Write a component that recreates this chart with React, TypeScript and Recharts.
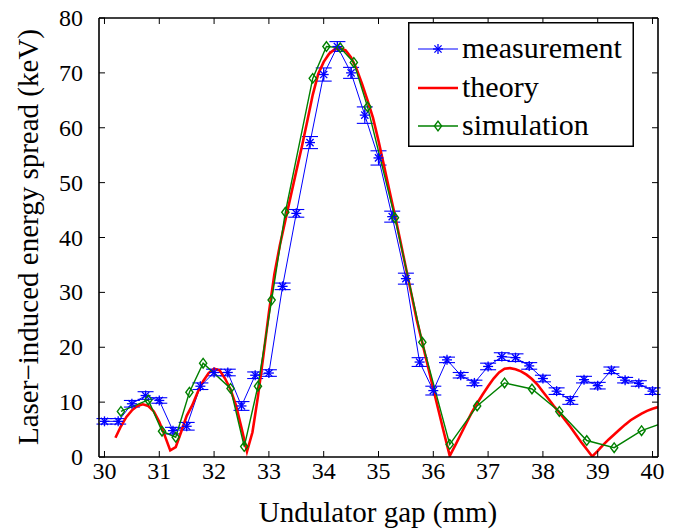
import React from 'react';
import { LineChart, Line, XAxis, YAxis, ErrorBar, Legend, Customized } from 'recharts';

// ---------- data ----------
const measurementGap = [
  30.0, 30.25, 30.5, 30.75, 31.0, 31.25, 31.5, 31.75, 32.0, 32.25, 32.5, 32.75, 33.0, 33.25,
  33.5, 33.75, 34.0, 34.25, 34.5, 34.75, 35.0, 35.25, 35.5, 35.75, 36.0, 36.25, 36.5, 36.75,
  37.0, 37.25, 37.5, 37.75, 38.0, 38.25, 38.5, 38.75, 39.0, 39.25, 39.5, 39.75, 40.0,
];
const measurementSpread = [
  6.5, 6.5, 9.7, 11.2, 10.3, 4.8, 5.6, 12.9, 15.4, 15.4, 9.3, 14.9, 15.3, 31.1,
  44.4, 57.3, 69.7, 74.8, 70.0, 62.3, 54.5, 43.8, 32.5, 17.3, 12.1, 17.7, 14.9, 13.5,
  16.5, 18.3, 18.1, 16.6, 14.3, 12.0, 10.3, 14.1, 13.0, 15.8, 14.0, 13.4, 12.0,
];
const measurementError = [
  0.5, 0.5, 0.6, 0.7, 0.5, 0.6, 0.7, 0.6, 0.6, 0.6, 0.8, 0.6, 0.6, 0.6,
  0.7, 1.1, 1.2, 0.9, 1.0, 1.5, 1.3, 1.0, 1.0, 0.8, 0.8, 0.5, 0.5, 0.5,
  0.6, 0.7, 0.7, 0.6, 0.6, 0.6, 0.7, 0.6, 0.6, 0.6, 0.5, 0.5, 0.6,
];

const theoryGap = [
  30.2, 30.3, 30.4, 30.5, 30.6, 30.7, 30.8, 30.9, 31.0, 31.1, 31.2, 31.3, 31.4, 31.5, 31.6,
  31.7, 31.8, 31.9, 32.0, 32.1, 32.2, 32.3, 32.4, 32.5, 32.6, 32.7, 32.8, 32.9, 33.0, 33.1,
  33.2, 33.3, 33.4, 33.5, 33.6, 33.7, 33.8, 33.9, 34.0, 34.1, 34.2, 34.3, 34.4, 34.5, 34.6,
  34.7, 34.8, 34.9, 35.0, 35.1, 35.2, 35.3, 35.4, 35.5, 35.6, 35.7, 35.8, 35.9, 36.0, 36.1,
  36.2, 36.3, 36.4, 36.5, 36.6, 36.7, 36.8, 36.9, 37.0, 37.1, 37.2, 37.3, 37.4, 37.5, 37.6,
  37.7, 37.8, 37.9, 38.0, 38.1, 38.2, 38.3, 38.4, 38.5, 38.6, 38.7, 38.8, 38.9, 39.0, 39.1,
  39.2, 39.3, 39.4, 39.5, 39.6, 39.7, 39.8, 39.9, 40.0, 40.1,
];
const theorySpread = [
  3.5, 5.6, 7.3, 8.5, 9.3, 9.6, 9.3, 8.3, 6.4, 3.9, 1.2, 1.8, 4.6, 7.5, 9.4,
  11.8, 13.8, 15.3, 16.1, 15.8, 14.3, 12.3, 9.4, 5.3, 1.0, 4.5, 11.0, 18.5, 26.3, 33.3,
  38.6, 43.1, 47.6, 52.1, 56.5, 61.2, 66.0, 69.8, 72.0, 73.5, 74.3, 74.5, 74.1, 72.8, 70.7,
  68.0, 65.0, 61.8, 57.6, 53.1, 48.5, 44.0, 39.3, 34.5, 29.7, 24.9, 20.8, 16.6, 12.4, 8.3,
  4.2, 0.2, 2.1, 4.1, 6.1, 8.1, 9.8, 11.4, 12.9, 14.3, 15.4, 16.1, 16.2, 16.0, 15.6,
  15.0, 14.2, 13.2, 11.9, 10.6, 9.3, 8.1, 6.8, 5.5, 4.1, 2.7, 1.4, 0.1, 1.1, 2.2,
  3.2, 4.1, 5.0, 5.9, 6.7, 7.3, 7.9, 8.4, 8.8, 9.1,
];

const simulationGap = [
  30.3, 30.8, 31.05, 31.3, 31.55, 31.8, 32.3, 32.55, 32.8, 33.05, 33.3, 33.8, 34.05, 34.3,
  34.55, 34.8, 35.3, 35.8, 36.3, 36.8, 37.3, 37.8, 38.3, 38.8, 39.3, 39.8, 40.3,
];
const simulationSpread = [
  8.3, 10.4, 4.7, 3.6, 11.8, 17.1, 12.5, 1.9, 12.9, 28.6, 44.6, 69.0, 74.8, 74.6,
  71.9, 63.8, 43.6, 20.9, 2.3, 9.3, 13.5, 12.4, 8.3, 3.0, 1.7, 4.8, 6.6,
];

const xTicks = [30, 31, 32, 33, 34, 35, 36, 37, 38, 39, 40];
const yTicks = [0, 10, 20, 30, 40, 50, 60, 70, 80];
const seriesNames = ['measurement', 'theory', 'simulation'];

// ---------- styling ----------
const FONT = "'Liberation Serif', 'Times New Roman', serif";
const BLUE = '#0000ff';
const RED = '#ff0000';
const GREEN = '#008000';

const measurementData = measurementGap.map((x, i) => ({ x, y: measurementSpread[i], err: measurementError[i] }));
const theoryData = theoryGap.map((x, i) => ({ x, y: theorySpread[i] }));
const simulationData = simulationGap.map((x, i) => ({ x, y: simulationSpread[i] }));

const StarMark = ({ cx, cy }: any) => {
  const r = 5;
  const d = r * 0.72;
  return (
    <g stroke={BLUE} strokeWidth={1.3}>
      <line x1={cx - r} y1={cy} x2={cx + r} y2={cy} />
      <line x1={cx} y1={cy - r} x2={cx} y2={cy + r} />
      <line x1={cx - d} y1={cy - d} x2={cx + d} y2={cy + d} />
      <line x1={cx - d} y1={cy + d} x2={cx + d} y2={cy - d} />
    </g>
  );
};

const DiamondMark = ({ cx, cy }: any) => (
  <polygon
    points={`${cx},${cy - 4.8} ${cx + 3.6},${cy} ${cx},${cy + 4.8} ${cx - 3.6},${cy}`}
    fill="none"
    stroke={GREEN}
    strokeWidth={1.4}
  />
);

const BottomTick = (props: any) => {
  const { x, y, payload } = props;
  return (
    <g>
      <line x1={x} x2={x} y1={y} y2={y - 6} stroke="#000" strokeWidth={1} />
      <text x={x} y={y + 22} textAnchor="middle" fontSize={24} fontFamily={FONT} fill="#000">
        {payload.value}
      </text>
    </g>
  );
};
const TopTick = (props: any) => {
  const { x, y } = props;
  return <line x1={x} x2={x} y1={y} y2={y + 6} stroke="#000" strokeWidth={1} />;
};
const LeftTick = (props: any) => {
  const { x, y, payload } = props;
  return (
    <g>
      <line x1={x} x2={x + 6} y1={y} y2={y} stroke="#000" strokeWidth={1} />
      <text x={x - 16} y={y + 8} textAnchor="end" fontSize={24} fontFamily={FONT} fill="#000">
        {payload.value}
      </text>
    </g>
  );
};
const RightTick = (props: any) => {
  const { x, y } = props;
  return <line x1={x} x2={x - 6} y1={y} y2={y} stroke="#000" strokeWidth={1} />;
};

const LegendBox = () => {
  const rows = [27, 66, 104];
  return (
    <svg width={226} height={125} style={{ display: 'block' }}>
      <rect x={0.75} y={0.75} width={224.5} height={123.5} fill="#fff" stroke="#000" strokeWidth={1.5} />
      <line x1={10} x2={50} y1={rows[0]} y2={rows[0]} stroke={BLUE} strokeWidth={1} />
      <StarMark cx={30} cy={rows[0]} />
      <line x1={10} x2={50} y1={rows[1]} y2={rows[1]} stroke={RED} strokeWidth={2.5} />
      <line x1={10} x2={50} y1={rows[2]} y2={rows[2]} stroke={GREEN} strokeWidth={1.4} />
      <DiamondMark cx={30} cy={rows[2]} />
      {seriesNames.map((name, i) => (
        <text key={name} x={54} y={rows[i] + 9} fontSize={30} fontFamily={FONT} fill="#000">
          {name}
        </text>
      ))}
    </svg>
  );
};

const AxisTitles = () => (
  <g>
    <text x={378} y={522} textAnchor="middle" fontSize={29} fontFamily={FONT} fill="#000">
      Undulator gap (mm)
    </text>
    <text
      x={38}
      y={237}
      textAnchor="middle"
      fontSize={29}
      fontFamily={FONT}
      fill="#000"
      transform="rotate(-90, 38, 237)"
    >
      Laser−induced energy spread (keV)
    </text>
  </g>
);

const axisLineStyle = { stroke: '#000', strokeWidth: 1.6 };

export default function App() {
  return (
    <div style={{ position: 'absolute', left: 0, top: 0, width: 685, height: 529, background: '#fff' }}>
      <LineChart width={685} height={529} margin={{ top: 17, right: 26, bottom: 71, left: 98 }}>
        <XAxis
          xAxisId="bottom"
          type="number"
          dataKey="x"
          domain={[29.9, 40.1]}
          ticks={xTicks}
          allowDataOverflow
          height={1}
          tickSize={0}
          tickMargin={0}
          tickLine={false}
          axisLine={axisLineStyle}
          tick={<BottomTick />}
          interval={0}
        />
        <XAxis
          xAxisId="top"
          orientation="top"
          type="number"
          dataKey="x"
          domain={[29.9, 40.1]}
          ticks={xTicks}
          allowDataOverflow
          height={1}
          tickSize={0}
          tickMargin={0}
          tickLine={false}
          axisLine={axisLineStyle}
          tick={<TopTick />}
          interval={0}
        />
        <YAxis
          yAxisId="left"
          type="number"
          domain={[0, 80]}
          ticks={yTicks}
          allowDataOverflow
          width={1}
          tickSize={0}
          tickMargin={0}
          tickLine={false}
          axisLine={axisLineStyle}
          tick={<LeftTick />}
          interval={0}
        />
        <YAxis
          yAxisId="right"
          orientation="right"
          type="number"
          domain={[0, 80]}
          ticks={yTicks}
          allowDataOverflow
          width={1}
          tickSize={0}
          tickMargin={0}
          tickLine={false}
          axisLine={axisLineStyle}
          tick={<RightTick />}
          interval={0}
        />
        <Line
          xAxisId="bottom"
          yAxisId="left"
          data={measurementData}
          dataKey="y"
          name="measurement"
          type="linear"
          stroke={BLUE}
          strokeWidth={1}
          isAnimationActive={false}
          activeDot={false}
          dot={(p: any) => <StarMark key={`m${p.index}`} cx={p.cx} cy={p.cy} />}
        >
          <ErrorBar dataKey="err" direction="y" width={8} stroke={BLUE} strokeWidth={1.1} isAnimationActive={false} />
        </Line>
        <Line
          xAxisId="bottom"
          yAxisId="left"
          data={theoryData}
          dataKey="y"
          name="theory"
          type="linear"
          stroke={RED}
          strokeWidth={2.6}
          isAnimationActive={false}
          activeDot={false}
          dot={false}
        />
        <Line
          xAxisId="bottom"
          yAxisId="left"
          data={simulationData}
          dataKey="y"
          name="simulation"
          type="linear"
          stroke={GREEN}
          strokeWidth={1.4}
          isAnimationActive={false}
          activeDot={false}
          dot={(p: any) => <DiamondMark key={`s${p.index}`} cx={p.cx} cy={p.cy} />}
        />
        <Customized component={AxisTitles} />
        <Legend
          layout="vertical"
          align="center"
          verticalAlign="middle"
          content={() => <LegendBox />}
          wrapperStyle={{ position: 'absolute', left: 408, top: 22, width: 226, height: 125 }}
        />
      </LineChart>
    </div>
  );
}
